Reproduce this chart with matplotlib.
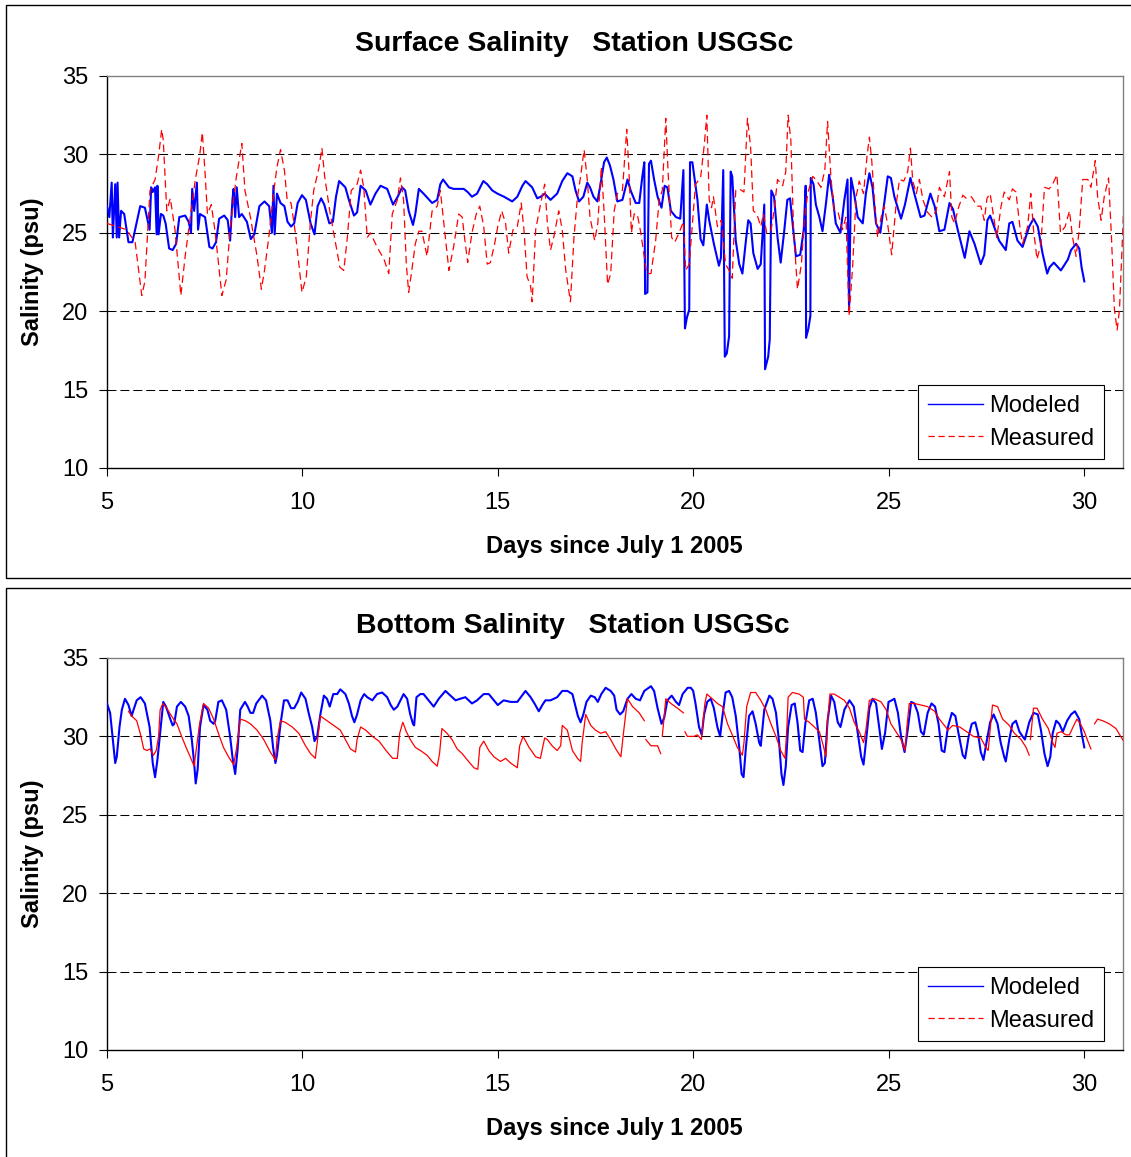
import numpy as np
import matplotlib.pyplot as plt
from matplotlib.lines import Line2D
from matplotlib.patches import Rectangle

plt.rcParams['font.family'] = ['Liberation Sans', 'DejaVu Sans']

nan = np.nan

# (day since July 1 2005, salinity psu)
surf_modeled = [
    (5.00, 26.7), (5.06, 26.0), (5.12, 28.2), (5.15, 24.7), (5.21, 28.1), (5.25, 24.7), (5.27, 28.2),
    (5.31, 24.7), (5.36, 26.4), (5.44, 26.2), (5.55, 24.4), (5.65, 24.4), (5.72, 25.2), (5.85, 26.7),
    (5.97, 26.6), (6.09, 25.2), (6.13, 27.9), (6.17, 27.6), (6.23, 27.9), (6.27, 24.9), (6.29, 28.0),
    (6.32, 24.9), (6.38, 26.2), (6.44, 26.1), (6.50, 25.6), (6.59, 24.0), (6.68, 23.9), (6.77, 24.3),
    (6.85, 26.0), (7.00, 26.1), (7.09, 25.7), (7.15, 25.0), (7.18, 27.8), (7.23, 26.4), (7.30, 28.2),
    (7.33, 25.2), (7.38, 26.2), (7.51, 26.0), (7.62, 24.1), (7.70, 24.0), (7.79, 24.4), (7.87, 25.9),
    (8.00, 26.1), (8.09, 25.8), (8.15, 24.5), (8.21, 27.1), (8.24, 27.8), (8.28, 26.0), (8.32, 27.9),
    (8.38, 26.0), (8.45, 26.2), (8.58, 25.7), (8.68, 24.6), (8.77, 24.9), (8.90, 26.7), (9.03, 27.0),
    (9.15, 26.7), (9.22, 25.0), (9.26, 28.0), (9.29, 24.9), (9.35, 27.5), (9.44, 26.9), (9.54, 26.7),
    (9.62, 25.7), (9.71, 25.4), (9.79, 25.6), (9.88, 26.9), (9.99, 27.4), (10.09, 27.1), (10.21, 25.6),
    (10.31, 24.9), (10.39, 26.7), (10.48, 27.2), (10.56, 26.8), (10.69, 25.6), (10.78, 25.7), (10.86, 27.3),
    (10.94, 28.3), (11.10, 27.9), (11.19, 27.1), (11.32, 26.1), (11.40, 26.3), (11.49, 28.0), (11.62, 27.7),
    (11.74, 26.8), (11.87, 27.5), (12.00, 28.0), (12.17, 27.8), (12.32, 26.8), (12.44, 27.3), (12.55, 27.9),
    (12.63, 27.7), (12.72, 26.4), (12.83, 25.5), (12.89, 26.2), (12.98, 27.8), (13.10, 27.5), (13.32, 26.9),
    (13.45, 27.1), (13.53, 28.1), (13.60, 28.4), (13.75, 27.9), (13.87, 27.8), (14.13, 27.8), (14.23, 27.6),
    (14.34, 27.3), (14.47, 27.5), (14.63, 28.3), (14.73, 28.1), (14.86, 27.7), (14.99, 27.5), (15.16, 27.3),
    (15.37, 27.0), (15.50, 27.3), (15.63, 28.0), (15.71, 28.3), (15.88, 27.9), (16.01, 27.2), (16.10, 27.3),
    (16.20, 27.5), (16.35, 27.1), (16.52, 27.5), (16.65, 28.3), (16.78, 28.8), (16.91, 28.6), (16.99, 27.7),
    (17.08, 27.0), (17.19, 27.3), (17.29, 28.2), (17.36, 27.9), (17.45, 27.3), (17.55, 27.0), (17.63, 28.1),
    (17.72, 29.5), (17.79, 29.8), (17.87, 29.3), (17.96, 28.4), (18.06, 27.0), (18.19, 27.1), (18.32, 28.4),
    (18.40, 27.7), (18.53, 26.9), (18.62, 26.9), (18.70, 28.6), (18.75, 29.5), (18.77, 21.1), (18.83, 21.2),
    (18.87, 29.4), (18.92, 29.6), (19.00, 28.4), (19.09, 27.3), (19.19, 26.6), (19.27, 28.0), (19.34, 27.9),
    (19.43, 26.4), (19.56, 26.0), (19.67, 25.9), (19.75, 29.0), (19.79, 18.9), (19.84, 19.6), (19.90, 20.1),
    (19.92, 29.5), (19.98, 29.5), (20.04, 28.4), (20.11, 27.1), (20.19, 24.6), (20.26, 24.2), (20.35, 26.8),
    (20.41, 25.8), (20.53, 24.3), (20.66, 22.9), (20.71, 23.4), (20.77, 29.0), (20.81, 17.1), (20.86, 17.3),
    (20.92, 18.4), (20.96, 28.9), (21.00, 28.6), (21.09, 24.5), (21.18, 23.0), (21.26, 22.4), (21.35, 24.5),
    (21.41, 25.8), (21.47, 25.6), (21.54, 23.7), (21.65, 22.7), (21.73, 23.0), (21.82, 26.8), (21.84, 16.3),
    (21.92, 17.1), (21.96, 18.2), (22.00, 27.7), (22.07, 27.3), (22.16, 24.7), (22.24, 23.1), (22.33, 25.1),
    (22.41, 27.1), (22.48, 27.2), (22.57, 25.0), (22.63, 23.5), (22.74, 23.6), (22.83, 25.2), (22.88, 28.0),
    (22.89, 18.3), (22.95, 18.9), (23.00, 19.7), (23.01, 28.5), (23.08, 28.1), (23.14, 26.8), (23.23, 26.0),
    (23.31, 25.1), (23.40, 26.9), (23.48, 28.7), (23.57, 27.3), (23.65, 25.6), (23.77, 25.0), (23.87, 27.1),
    (23.95, 28.4), (23.99, 20.1), (24.04, 28.5), (24.12, 27.5), (24.21, 26.0), (24.34, 25.6), (24.42, 27.5),
    (24.51, 28.8), (24.59, 27.9), (24.68, 25.6), (24.79, 25.0), (24.89, 26.9), (24.98, 28.6), (25.06, 28.5),
    (25.15, 27.3), (25.32, 25.9), (25.42, 26.8), (25.56, 28.5), (25.66, 27.5), (25.82, 26.0), (25.92, 26.1),
    (26.07, 27.5), (26.18, 26.7), (26.30, 25.1), (26.43, 25.2), (26.56, 26.9), (26.65, 26.5), (26.77, 25.2),
    (26.95, 23.4), (27.07, 25.1), (27.20, 24.3), (27.36, 23.0), (27.45, 23.6), (27.53, 25.8), (27.60, 26.1),
    (27.70, 25.4), (27.83, 24.5), (28.00, 23.9), (28.09, 25.6), (28.17, 25.7), (28.30, 24.5), (28.43, 24.1),
    (28.60, 25.4), (28.71, 25.9), (28.82, 25.4), (28.94, 23.7), (29.06, 22.4), (29.12, 22.8), (29.23, 23.1),
    (29.41, 22.6), (29.59, 23.3), (29.67, 23.9), (29.80, 24.3), (29.88, 24.0), (29.94, 22.8), (30.01, 21.9),
]

surf_measured = [
    (5.00, 25.6), (5.50, 25.2), (5.72, 24.4), (5.89, 21.0), (5.97, 21.9), (6.10, 27.7), (6.23, 28.4),
    (6.32, 29.9), (6.40, 31.6), (6.44, 30.9), (6.53, 26.4), (6.62, 27.2), (6.74, 25.2), (6.89, 21.0),
    (7.00, 23.5), (7.11, 25.6), (7.26, 28.4), (7.37, 29.9), (7.44, 31.4), (7.51, 28.8), (7.57, 26.2),
    (7.67, 26.8), (7.77, 25.0), (7.94, 21.0), (8.05, 22.0), (8.15, 25.2), (8.30, 28.4), (8.45, 30.7),
    (8.53, 27.7), (8.67, 26.0), (8.84, 23.5), (8.95, 21.4), (9.03, 22.6), (9.14, 24.7), (9.26, 27.5),
    (9.35, 29.2), (9.44, 30.3), (9.54, 29.0), (9.61, 27.1), (9.71, 26.9), (9.82, 25.0), (9.99, 21.2),
    (10.10, 22.2), (10.21, 25.8), (10.29, 27.7), (10.42, 29.1), (10.50, 30.4), (10.57, 28.6), (10.70, 26.4),
    (10.80, 25.0), (10.96, 22.8), (11.06, 22.6), (11.15, 24.7), (11.25, 27.7), (11.40, 28.1), (11.49, 29.0),
    (11.57, 27.9), (11.66, 24.7), (11.74, 25.0), (11.91, 24.1), (12.09, 23.3), (12.21, 22.4), (12.30, 26.2),
    (12.43, 27.1), (12.51, 28.5), (12.59, 27.1), (12.66, 23.0), (12.72, 21.2), (12.80, 22.6), (12.89, 24.3),
    (12.98, 25.1), (13.06, 25.1), (13.19, 23.5), (13.32, 26.4), (13.45, 26.7), (13.53, 27.7), (13.62, 25.6),
    (13.75, 22.6), (13.87, 24.1), (14.00, 26.2), (14.09, 26.0), (14.15, 24.7), (14.23, 23.1), (14.34, 25.0),
    (14.45, 26.2), (14.54, 26.7), (14.64, 25.4), (14.73, 23.0), (14.81, 23.1), (14.92, 24.3), (15.00, 25.4),
    (15.10, 26.4), (15.20, 25.6), (15.28, 23.7), (15.39, 25.2), (15.50, 25.4), (15.60, 26.9), (15.67, 25.2),
    (15.75, 22.2), (15.84, 21.6), (15.88, 20.6), (15.97, 25.2), (16.10, 26.9), (16.20, 28.1), (16.27, 25.6),
    (16.35, 23.9), (16.44, 24.8), (16.56, 26.4), (16.65, 25.2), (16.74, 22.6), (16.86, 20.6), (16.95, 24.7),
    (17.04, 27.3), (17.12, 28.6), (17.21, 30.3), (17.29, 28.4), (17.36, 26.0), (17.48, 24.5), (17.56, 25.6),
    (17.65, 29.2), (17.72, 26.4), (17.81, 21.7), (17.89, 22.4), (17.98, 26.4), (18.06, 27.5), (18.19, 27.7),
    (18.30, 31.6), (18.36, 28.8), (18.42, 25.0), (18.49, 26.2), (18.57, 26.2), (18.66, 25.0), (18.81, 22.4),
    (18.92, 22.4), (19.04, 24.5), (19.13, 27.1), (19.21, 27.7), (19.30, 32.3), (19.36, 28.8), (19.45, 24.7),
    (19.53, 24.4), (19.64, 25.0), (19.75, 25.7), (19.81, 22.6), (19.90, 23.0), (20.06, 28.1), (20.19, 28.5),
    (20.28, 30.5), (20.35, 32.5), (20.41, 27.1), (20.47, 26.6), (20.52, 27.3), (20.62, 25.4), (20.72, 25.8),
    (20.83, 23.0), (20.92, 22.6), (21.00, 22.1), (21.09, 27.7), (21.18, 27.8), (21.30, 27.6), (21.39, 32.3),
    (21.47, 30.5), (21.54, 26.4), (21.63, 26.2), (21.73, 25.4), (21.80, 26.2), (21.88, 25.0), (21.99, 25.1),
    (22.07, 26.4), (22.16, 28.4), (22.29, 28.0), (22.37, 28.9), (22.43, 32.5), (22.50, 30.9), (22.57, 25.2),
    (22.67, 21.4), (22.77, 23.0), (22.84, 25.6), (22.93, 27.5), (23.06, 28.6), (23.14, 28.4), (23.27, 27.9),
    (23.37, 29.0), (23.44, 32.1), (23.53, 28.4), (23.61, 26.4), (23.71, 26.3), (23.82, 25.2), (23.91, 26.0),
    (23.99, 19.7), (24.08, 22.8), (24.17, 27.3), (24.25, 28.3), (24.36, 27.5), (24.45, 29.9), (24.51, 31.1),
    (24.57, 29.6), (24.64, 27.1), (24.72, 24.7), (24.81, 26.0), (24.89, 26.7), (24.98, 25.5), (25.08, 23.6),
    (25.19, 26.7), (25.28, 28.4), (25.39, 28.3), (25.49, 28.9), (25.56, 30.4), (25.62, 28.3), (25.71, 27.5),
    (25.79, 28.4), (25.88, 27.1), (26.00, 26.3), (26.11, 26.0), (26.22, 26.4), (26.30, 27.9), (26.43, 27.3),
    (26.56, 28.9), (26.62, 26.0), (26.69, 25.6), (26.79, 26.6), (26.90, 27.4), (26.99, 27.2), (27.12, 27.3),
    (27.27, 26.7), (27.36, 26.7), (27.45, 25.8), (27.52, 27.2), (27.60, 27.5), (27.69, 26.0), (27.77, 24.7),
    (27.88, 26.7), (27.96, 27.6), (28.09, 27.1), (28.17, 27.8), (28.26, 27.6), (28.37, 25.2), (28.43, 24.3),
    (28.56, 25.4), (28.64, 27.5), (28.71, 25.2), (28.80, 23.3), (28.90, 24.3), (28.99, 27.9), (29.11, 27.8),
    (29.20, 28.1), (29.31, 28.7), (29.40, 25.0), (29.52, 25.4), (29.63, 26.4), (29.71, 24.7), (29.80, 23.5),
    (29.88, 25.2), (29.97, 28.4), (30.10, 28.4), (30.18, 27.9), (30.29, 29.6), (30.35, 27.3), (30.44, 25.8),
    (30.52, 27.3), (30.63, 28.5), (30.70, 25.0), (30.78, 20.1), (30.85, 18.8), (30.91, 20.1), (30.99, 25.0),
    (31.03, 27.3),
]

bot_modeled = [
    (5.00, 32.1), (5.08, 31.5), (5.15, 29.8), (5.21, 28.3), (5.25, 28.7), (5.32, 30.6), (5.38, 31.7),
    (5.46, 32.4), (5.55, 32.0), (5.63, 31.3), (5.68, 31.7), (5.76, 32.3), (5.86, 32.5), (5.97, 32.1),
    (6.09, 30.6), (6.17, 28.3), (6.23, 27.4), (6.29, 28.5), (6.36, 30.2), (6.44, 32.2), (6.51, 31.9),
    (6.62, 31.1), (6.68, 30.7), (6.72, 30.8), (6.79, 31.9), (6.89, 32.2), (7.00, 31.9), (7.09, 31.3),
    (7.17, 29.8), (7.23, 28.3), (7.27, 27.0), (7.32, 27.9), (7.38, 30.6), (7.47, 32.0), (7.57, 31.7),
    (7.64, 31.0), (7.73, 30.8), (7.77, 31.0), (7.85, 32.2), (7.94, 32.3), (8.05, 31.7), (8.15, 30.0),
    (8.22, 28.5), (8.28, 27.6), (8.34, 29.1), (8.41, 31.7), (8.53, 32.2), (8.60, 31.9), (8.67, 31.5),
    (8.74, 31.5), (8.82, 32.1), (8.97, 32.6), (9.07, 32.3), (9.18, 31.0), (9.25, 29.3), (9.31, 28.3),
    (9.35, 28.8), (9.44, 30.8), (9.53, 32.3), (9.62, 32.3), (9.71, 31.8), (9.79, 31.8), (9.88, 32.2),
    (9.97, 32.8), (10.08, 32.4), (10.16, 31.5), (10.25, 30.6), (10.31, 29.7), (10.38, 30.0), (10.46, 31.4),
    (10.55, 32.6), (10.63, 32.4), (10.70, 31.9), (10.79, 32.7), (10.89, 32.7), (10.97, 33.0), (11.10, 32.7),
    (11.19, 32.1), (11.27, 31.3), (11.33, 30.9), (11.40, 31.4), (11.49, 32.3), (11.58, 32.7), (11.66, 32.5),
    (11.79, 32.3), (11.91, 32.7), (12.04, 32.8), (12.17, 32.5), (12.26, 32.0), (12.34, 31.7), (12.43, 31.9),
    (12.51, 32.3), (12.59, 32.7), (12.68, 32.4), (12.76, 31.4), (12.83, 30.8), (12.86, 30.7), (12.92, 32.5),
    (13.02, 32.7), (13.10, 32.7), (13.23, 32.3), (13.36, 31.9), (13.49, 32.4), (13.66, 32.9), (13.79, 32.6),
    (13.92, 32.3), (14.04, 32.4), (14.17, 32.5), (14.34, 32.1), (14.47, 32.3), (14.64, 32.7), (14.77, 32.7),
    (14.90, 32.3), (15.00, 32.0), (15.15, 32.3), (15.33, 32.2), (15.50, 32.2), (15.62, 32.6), (15.71, 32.9),
    (15.84, 32.5), (15.94, 32.1), (16.05, 31.6), (16.14, 32.0), (16.22, 32.3), (16.35, 32.3), (16.52, 32.5),
    (16.65, 32.9), (16.78, 32.9), (16.91, 32.7), (16.99, 31.9), (17.05, 31.3), (17.12, 30.9), (17.19, 31.4),
    (17.27, 32.2), (17.38, 32.6), (17.48, 32.5), (17.56, 32.2), (17.65, 32.7), (17.76, 33.1), (17.89, 32.9),
    (17.98, 32.6), (18.04, 31.7), (18.13, 31.4), (18.21, 31.6), (18.32, 32.4), (18.42, 32.7), (18.53, 32.4),
    (18.64, 32.3), (18.75, 32.9), (18.92, 33.2), (19.00, 32.9), (19.09, 31.8), (19.19, 30.8), (19.26, 31.2),
    (19.34, 32.3), (19.45, 32.6), (19.56, 32.2), (19.64, 32.0), (19.73, 32.7), (19.86, 33.1), (19.94, 33.1),
    (20.00, 32.9), (20.06, 32.1), (20.15, 30.6), (20.22, 30.1), (20.28, 31.4), (20.36, 32.2), (20.45, 32.4),
    (20.53, 31.8), (20.62, 30.6), (20.69, 30.0), (20.75, 31.3), (20.83, 32.8), (20.92, 32.9), (21.00, 32.5),
    (21.09, 31.3), (21.18, 29.3), (21.24, 27.6), (21.29, 27.4), (21.35, 29.3), (21.43, 31.3), (21.52, 31.6),
    (21.60, 30.8), (21.69, 29.6), (21.73, 29.4), (21.82, 31.7), (21.95, 32.6), (22.03, 32.4), (22.12, 31.5),
    (22.20, 29.6), (22.26, 27.6), (22.31, 26.9), (22.37, 28.1), (22.43, 30.6), (22.52, 32.0), (22.60, 32.1),
    (22.67, 30.9), (22.74, 29.1), (22.80, 29.0), (22.87, 30.8), (22.97, 32.3), (23.06, 32.4), (23.14, 31.5),
    (23.23, 29.7), (23.31, 28.1), (23.37, 28.3), (23.44, 31.0), (23.53, 32.6), (23.61, 32.2), (23.70, 30.9),
    (23.77, 30.6), (23.87, 31.7), (24.00, 32.3), (24.11, 31.9), (24.19, 30.6), (24.30, 28.7), (24.36, 28.2),
    (24.42, 29.6), (24.51, 31.8), (24.59, 32.4), (24.68, 32.1), (24.77, 30.4), (24.83, 29.2), (24.91, 30.2),
    (25.00, 32.2), (25.08, 32.3), (25.15, 32.4), (25.24, 31.5), (25.32, 30.0), (25.41, 29.0), (25.49, 30.4),
    (25.58, 32.2), (25.66, 32.1), (25.75, 31.5), (25.83, 30.3), (25.90, 30.1), (26.00, 31.5), (26.10, 32.1),
    (26.19, 31.9), (26.28, 30.8), (26.36, 29.1), (26.43, 29.0), (26.52, 30.6), (26.62, 31.5), (26.71, 31.3),
    (26.79, 30.2), (26.90, 28.8), (26.96, 28.6), (27.05, 30.0), (27.13, 30.8), (27.22, 30.9), (27.29, 30.2),
    (27.36, 29.0), (27.43, 28.5), (27.52, 29.8), (27.60, 30.9), (27.69, 31.4), (27.79, 30.8), (27.87, 29.6),
    (27.96, 28.7), (28.00, 28.4), (28.09, 29.8), (28.17, 30.8), (28.26, 31.0), (28.35, 30.3), (28.43, 30.0),
    (28.49, 29.8), (28.60, 30.9), (28.71, 31.5), (28.82, 31.4), (28.90, 30.4), (28.99, 28.9), (29.07, 28.1),
    (29.14, 28.7), (29.20, 30.2), (29.29, 31.0), (29.37, 30.8), (29.46, 30.3), (29.57, 31.0), (29.67, 31.4),
    (29.77, 31.6), (29.88, 31.1), (29.94, 30.2), (30.01, 29.3),
]

bot_measured = [
    (5.55, 31.6), (5.63, 31.3), (5.76, 31.0), (5.85, 30.2), (5.94, 29.2), (6.02, 29.1), (6.10, 29.2),
    (6.19, 28.8), (6.26, 29.1), (6.32, 30.0), (6.36, 31.7), (6.43, 32.1), (6.53, 31.8), (6.65, 31.3),
    (6.79, 30.8), (6.91, 30.0), (7.04, 29.2), (7.13, 28.7), (7.23, 28.1), (7.28, 29.1), (7.37, 30.8),
    (7.47, 32.1), (7.60, 31.8), (7.73, 31.1), (7.85, 30.2), (7.98, 29.3), (8.11, 28.7), (8.24, 28.2),
    (8.32, 29.3), (8.41, 31.1), (8.54, 31.0), (8.67, 30.8), (8.84, 30.4), (9.01, 29.8), (9.18, 29.0),
    (9.31, 28.5), (9.35, 29.8), (9.44, 31.0), (9.56, 30.9), (9.74, 30.6), (9.91, 30.2), (10.08, 29.4),
    (10.21, 28.9), (10.33, 28.6), (10.38, 29.6), (10.46, 31.3), (10.63, 31.0), (10.80, 30.7), (10.97, 30.4),
    (11.10, 29.8), (11.23, 29.2), (11.36, 29.0), (11.40, 29.8), (11.49, 30.6), (11.62, 30.4), (11.79, 30.0),
    (11.96, 29.7), (12.14, 29.1), (12.31, 28.6), (12.43, 28.6), (12.49, 30.2), (12.57, 30.9), (12.66, 30.3),
    (12.76, 29.8), (12.89, 29.3), (13.02, 29.1), (13.19, 28.8), (13.32, 28.4), (13.45, 28.1), (13.51, 28.9),
    (13.57, 30.5), (13.70, 30.2), (13.83, 29.8), (13.96, 29.2), (14.09, 28.9), (14.22, 28.5), (14.39, 28.0),
    (14.49, 27.9), (14.54, 29.3), (14.64, 29.7), (14.77, 29.1), (14.90, 28.7), (15.07, 28.4), (15.20, 28.6),
    (15.33, 28.3), (15.50, 28.0), (15.56, 29.4), (15.65, 30.0), (15.80, 29.3), (15.97, 28.7), (16.09, 28.6),
    (16.20, 29.9), (16.27, 29.8), (16.39, 29.4), (16.52, 29.1), (16.61, 29.4), (16.65, 30.7), (16.78, 30.4),
    (16.91, 29.1), (17.04, 28.6), (17.12, 28.4), (17.16, 29.6), (17.25, 31.4), (17.38, 30.7), (17.50, 30.4),
    (17.63, 30.2), (17.76, 30.3), (17.89, 29.8), (18.02, 29.2), (18.15, 28.7), (18.23, 30.5), (18.32, 32.4),
    (18.45, 31.9), (18.62, 31.5), (18.75, 31.0), (18.77, nan), (18.79, 29.8), (18.92, 29.4), (19.09, 29.4),
    (19.17, 28.9), (19.19, nan), (19.21, 30.0), (19.30, 32.4), (19.43, 32.1), (19.60, 31.8), (19.75, 31.5),
    (19.77, nan), (19.79, 30.3), (19.85, 30.0), (20.02, 30.0), (20.11, 30.1), (20.21, 29.8), (20.30, 32.1),
    (20.35, 32.7), (20.49, 32.4), (20.62, 32.1), (20.75, 31.9), (20.88, 30.8), (21.00, 30.1), (21.13, 29.3),
    (21.26, 28.8), (21.30, 29.6), (21.37, 31.9), (21.47, 32.8), (21.60, 32.8), (21.73, 32.3), (21.86, 31.7),
    (21.99, 30.8), (22.12, 30.0), (22.24, 29.1), (22.35, 28.6), (22.40, 30.6), (22.43, 32.5), (22.54, 32.8),
    (22.71, 32.7), (22.82, 32.5), (22.85, 31.1), (22.97, 30.9), (23.10, 30.6), (23.23, 30.3), (23.31, 29.6),
    (23.40, 28.7), (23.44, 31.0), (23.50, 32.7), (23.61, 32.7), (23.74, 32.5), (23.87, 32.3), (24.00, 31.8),
    (24.12, 30.9), (24.25, 30.3), (24.36, 29.6), (24.42, 30.4), (24.51, 32.3), (24.64, 32.4), (24.81, 32.2),
    (24.94, 31.7), (25.06, 30.8), (25.19, 30.3), (25.32, 29.8), (25.42, 29.1), (25.47, 30.6), (25.53, 32.1),
    (25.66, 32.1), (25.83, 32.0), (26.00, 31.9), (26.18, 31.6), (26.30, 31.1), (26.43, 30.7), (26.52, 30.4),
    (26.64, 30.7), (26.82, 30.6), (27.00, 30.3), (27.17, 30.0), (27.36, 29.9), (27.49, 29.3), (27.55, 29.1),
    (27.60, 30.4), (27.66, 32.0), (27.79, 31.9), (27.92, 31.1), (28.09, 30.7), (28.22, 30.2), (28.39, 29.8),
    (28.52, 29.3), (28.60, 28.8), (28.62, nan), (28.63, 29.8), (28.71, 31.8), (28.80, 31.8), (28.94, 31.1),
    (29.09, 30.5), (29.20, 29.6), (29.26, 29.3), (29.31, 30.2), (29.42, 30.3), (29.54, 30.1), (29.63, 30.1),
    (29.74, 30.7), (29.82, 31.1), (29.91, 30.8), (30.01, 30.3), (30.10, 29.7), (30.18, 29.2), (30.22, nan),
    (30.27, 30.8), (30.35, 31.1), (30.48, 31.0), (30.65, 30.8), (30.82, 30.5), (30.94, 30.0), (31.04, 29.6),
]

titles = ["Surface Salinity   Station USGSc", "Bottom Salinity   Station USGSc"]
x_label = "Days since July 1 2005"
y_label = "Salinity (psu)"
x_ticks = [5, 10, 15, 20, 25, 30]
y_ticks = [10, 15, 20, 25, 30, 35]
grid_levels = [15, 20, 25, 30]
legend_labels = ["Modeled", "Measured"]

BLUE = '#0000ff'
RED = '#ff0000'
W, H = 1131, 1157

fig = plt.figure(figsize=(W / 100, H / 100), dpi=100)

# outer chart frames (Excel-like chart areas)
fig.patches.append(Rectangle((6 / W, 1 - 578 / H), 1.1, 573 / H, transform=fig.transFigure,
                             fill=False, edgecolor='black', lw=1.0))
fig.patches.append(Rectangle((6 / W, -0.05), 1.1, 1 - 588 / H + 0.05, transform=fig.transFigure,
                             fill=False, edgecolor='black', lw=1.0))


def draw_panel(ax, modeled, measured, solid_meas):
    mt, mv = np.array(modeled).T
    st, sv = np.array(measured).T
    ax.plot(mt, mv, color=BLUE, lw=1.5, zorder=3)
    if solid_meas:
        ax.plot(st, sv, color=RED, lw=0.9, zorder=4)
    else:
        ax.plot(st, sv, color=RED, lw=0.9, ls=(0, (6, 3.5)), zorder=4)
    for g in grid_levels:
        ax.axhline(g, color='black', lw=0.75, ls=(0, (8.6, 3.8)), zorder=1)
    ax.set_xlim(5, 31)
    ax.set_ylim(10, 35)
    ax.set_xticks(x_ticks)
    ax.set_yticks(y_ticks)
    ax.tick_params(direction='out', length=5.5, width=0.8, labelsize=17)
    ax.tick_params(axis='x', pad=12)
    ax.tick_params(axis='y', pad=8)
    for s in ['top', 'right']:
        ax.spines[s].set_color('#808080')
        ax.spines[s].set_linewidth(1.0)
    for s in ['left', 'bottom']:
        ax.spines[s].set_color('black')
        ax.spines[s].set_linewidth(1.0)
    handles = [Line2D([], [], color=BLUE, lw=1.0),
               Line2D([], [], color=RED, lw=0.9, ls=(0, (5, 3)))]
    leg = ax.legend(handles, legend_labels, loc='lower right', bbox_to_anchor=(0.981, 0.023),
                    borderaxespad=0, fancybox=False, framealpha=1, edgecolor='black',
                    fontsize=17, handlelength=2.35, handletextpad=0.25, labelspacing=0.45,
                    borderpad=0.4)
    leg.get_frame().set_linewidth(0.8)
    leg.set_zorder(10)


ax1 = fig.add_axes([107 / W, 1 - 468 / H, 1016 / W, 392 / H])
draw_panel(ax1, surf_modeled, surf_measured, False)
ax2 = fig.add_axes([107 / W, 1 - 1050 / H, 1016 / W, 392 / H])
draw_panel(ax2, bot_modeled, bot_measured, True)

fig.text(574 / W, 1 - 44 / H, titles[0], ha='center', va='center', fontsize=20.5, fontweight='bold')
fig.text(573 / W, 1 - 626 / H, titles[1], ha='center', va='center', fontsize=20.5, fontweight='bold')
fig.text(614 / W, 1 - 546 / H, x_label, ha='center', va='center', fontsize=17, fontweight='bold')
fig.text(614 / W, 1 - 1128 / H, x_label, ha='center', va='center', fontsize=17, fontweight='bold')
fig.text(33 / W, 1 - 272 / H, y_label, ha='center', va='center', rotation=90, fontsize=17,
         fontweight='bold')
fig.text(33 / W, 1 - 854 / H, y_label, ha='center', va='center', rotation=90, fontsize=17,
         fontweight='bold')

fig.savefig('out.png', dpi=100)
